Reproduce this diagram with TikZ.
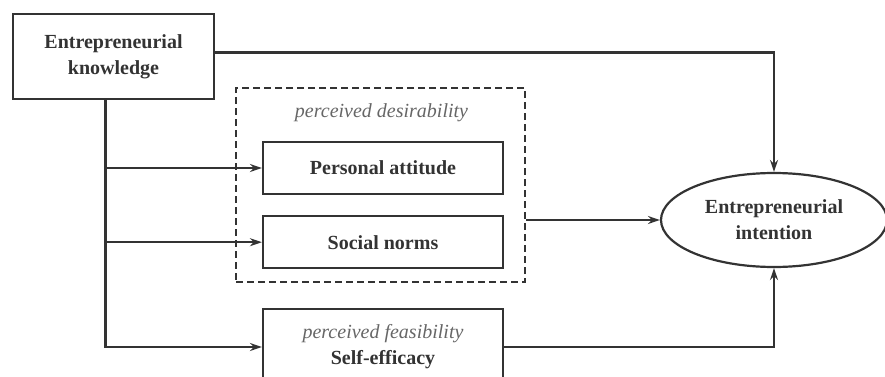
\documentclass[tikz,border=0pt]{standalone}
\usepackage{fontspec}
\setmainfont{Liberation Serif}
\usetikzlibrary{calc,positioning,arrows.meta,shapes.geometric}

\begin{document}
\begin{tikzpicture}[x=1pt,y=1pt,
  line width=2.2pt,
  color=black!80,
  block/.style={
    draw,
    rectangle,
    minimum width=240pt,
    minimum height=52pt,
    align=center,
    font=\fontsize{20}{26}\selectfont\bfseries},
  arr/.style={-{Stealth[length=12pt,width=8pt]}},
  ]
  \clip (0,0) rectangle (885,376);

  \node (Know) [draw,rectangle, minimum width=201pt, minimum height=85pt,
    font=\fontsize{20}{26}\selectfont\bfseries,align=center] at(113.5,319.5) {Entrepreneurial\\knowledge};

  \node (Intent) [draw,ellipse, minimum width=226pt, minimum height=94pt,inner sep=0pt,
    font=\fontsize{20}{26}\selectfont\bfseries,align=center] at(774,156) {Entrepreneurial\\intention};

  \node (Desire) [draw,dashed,dash pattern=on 7pt off 4pt,rectangle, minimum width=289pt, minimum height=194pt] at(380.5,191) {};
  \node (DesireLbl) [font=\fontsize{20}{26}\selectfont\itshape,color=black!60] at($(Desire.north)+(1,-26)$) {perceived desirability};

  \node (Attitude) [block] at(383,208) {Personal attitude};
  \node (Norms) [block] at($(Attitude.south)+(0,-20)$) [anchor=north] {Social norms};

  \node (Efficacy) [block, minimum height=76pt] at(383,29) {\textmd{\itshape\color{black!60}perceived feasibility}\\Self-efficacy};

  \coordinate (trunk) at($(Know.south)+(-8,0)$);

  \draw[arr] ($(Know.east)+(0,4)$) -| (Intent.north);
  \draw[arr] (trunk) |- (Efficacy.west);
  \draw[arr] (trunk) |- (Attitude.west);
  \draw[arr] (trunk) |- (Norms.west);
  \draw[arr] (Desire.east |- Intent.west) -- (Intent.west);
  \draw[arr] (Efficacy.east) -| (Intent.south);

\end{tikzpicture}
\end{document}
